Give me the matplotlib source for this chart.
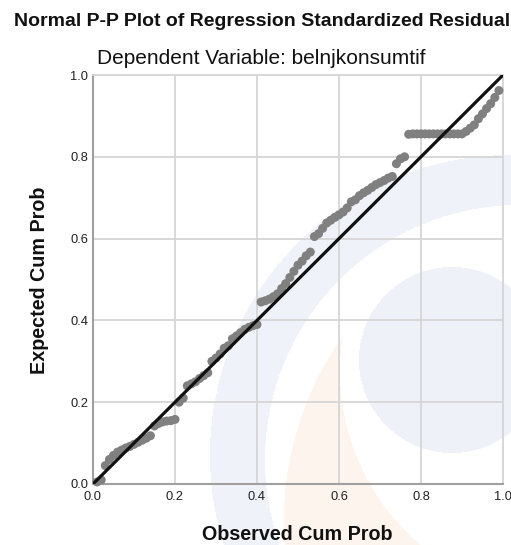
import matplotlib
matplotlib.use("Agg")
import matplotlib.pyplot as plt
import numpy as np

plt.rcParams['font.family'] = ['Liberation Sans', 'DejaVu Sans']

title = "Normal P-P Plot of Regression Standardized Residual"
subtitle = "Dependent Variable: belnjkonsumtif"
xlabel = "Observed Cum Prob"
ylabel = "Expected Cum Prob"
ticks = [0.0, 0.2, 0.4, 0.6, 0.8, 1.0]
tick_labels = ["0.0", "0.2", "0.4", "0.6", "0.8", "1.0"]

observed = [0.01, 0.02, 0.03, 0.04, 0.05, 0.06, 0.07, 0.08, 0.09, 0.10,
            0.11, 0.12, 0.13, 0.14, 0.15, 0.16, 0.17, 0.18, 0.19, 0.20,
            0.21, 0.22, 0.23, 0.24, 0.25, 0.26, 0.27, 0.28, 0.29, 0.30,
            0.31, 0.32, 0.33, 0.34, 0.35, 0.36, 0.37, 0.38, 0.39, 0.40,
            0.41, 0.42, 0.43, 0.44, 0.45, 0.46, 0.47, 0.48, 0.49, 0.50,
            0.51, 0.52, 0.53, 0.54, 0.55, 0.56, 0.57, 0.58, 0.59, 0.60,
            0.61, 0.62, 0.63, 0.64, 0.65, 0.66, 0.67, 0.68, 0.69, 0.70,
            0.71, 0.72, 0.73, 0.74, 0.75, 0.76, 0.77, 0.78, 0.79, 0.80,
            0.81, 0.82, 0.83, 0.84, 0.85, 0.86, 0.87, 0.88, 0.89, 0.90,
            0.91, 0.92, 0.93, 0.94, 0.95, 0.96, 0.97, 0.98, 0.99]
expected = [0.005, 0.010, 0.045, 0.060, 0.070, 0.078, 0.083, 0.088, 0.092, 0.097,
            0.102, 0.107, 0.112, 0.118, 0.142, 0.148, 0.152, 0.154, 0.155, 0.158,
            0.200, 0.210, 0.240, 0.245, 0.250, 0.258, 0.265, 0.272, 0.300, 0.308,
            0.318, 0.332, 0.338, 0.355, 0.362, 0.370, 0.378, 0.383, 0.387, 0.390,
            0.445, 0.448, 0.452, 0.458, 0.465, 0.478, 0.490, 0.505, 0.520, 0.535,
            0.545, 0.558, 0.567, 0.605, 0.612, 0.625, 0.638, 0.645, 0.652, 0.658,
            0.665, 0.675, 0.690, 0.695, 0.705, 0.712, 0.718, 0.725, 0.732, 0.737,
            0.742, 0.748, 0.752, 0.783, 0.795, 0.800, 0.855, 0.856, 0.856, 0.856,
            0.856, 0.856, 0.856, 0.856, 0.856, 0.856, 0.856, 0.856, 0.856, 0.856,
            0.862, 0.870, 0.878, 0.893, 0.905, 0.918, 0.930, 0.945, 0.962]

W, H = 511, 545
fig = plt.figure(figsize=(W / 100, H / 100), dpi=100)

# faint background watermark (decorative logo)
yy, xx = np.mgrid[0:H, 0:W] + 0.5
img = np.ones((H, W, 3))
def inside(cx, cy, r):
    return (xx - cx) ** 2 + (yy - cy) ** 2 <= r ** 2
ring = inside(510, 455, 300) & ~inside(520, 460, 255)
orange = inside(600, 520, 316) & ~inside(568, 371, 228) & (yy > 300)
disk = inside(452, 360, 93)
img[ring] = np.array([239, 242, 248]) / 255
img[orange] = np.array([254, 244, 238]) / 255
img[disk] = np.array([238, 241, 247]) / 255
bg = fig.add_axes([0, 0, 1, 1], zorder=0)
bg.imshow(img, extent=(0, W, H, 0), interpolation='bilinear', aspect='auto')
bg.set_xlim(0, W); bg.set_ylim(H, 0); bg.axis('off')

ax = fig.add_axes([93 / W, 1 - 484 / H, 410 / W, 409 / H], zorder=1)
ax.patch.set_alpha(0)
ax.set_xlim(0, 1)
ax.set_ylim(0, 1)
ax.set_xticks(ticks)
ax.set_yticks(ticks)
ax.set_xticklabels(tick_labels)
ax.set_yticklabels(tick_labels)
ax.tick_params(length=0, labelsize=9.3, colors='#222222')
ax.tick_params(axis='x', pad=5)
ax.tick_params(axis='y', pad=3.5)
ax.grid(True, color='#d6d6d6', linewidth=1.3, zorder=0)
for s in ['top', 'right']:
    ax.spines[s].set_color('#d6d6d6')
    ax.spines[s].set_linewidth(1.3)
for s in ['left', 'bottom']:
    ax.spines[s].set_color('#a0a0a0')
    ax.spines[s].set_linewidth(1.5)

ax.scatter(observed, expected, s=42, color='#808080', edgecolors='none', zorder=3, clip_on=False)
ax.plot([0, 1], [0, 1], color='#111111', linewidth=2.3, zorder=4, solid_capstyle='butt')

fig.text(262 / W, 1 - 22 / H, title, ha='center', va='center', fontsize=14.0, fontweight='bold', color='#111111')
fig.text(261 / W, 1 - 58 / H, subtitle, ha='center', va='center', fontsize=15, color='#111111')
fig.text(297 / W, 1 - 535 / H, xlabel, ha='center', va='center', fontsize=14.2, fontweight='bold', color='#111111')
fig.text(40 / W, 1 - 280 / H, ylabel, ha='center', va='center', rotation=90, fontsize=14.2, fontweight='bold', color='#111111')

fig.savefig("out.png", dpi=100)
